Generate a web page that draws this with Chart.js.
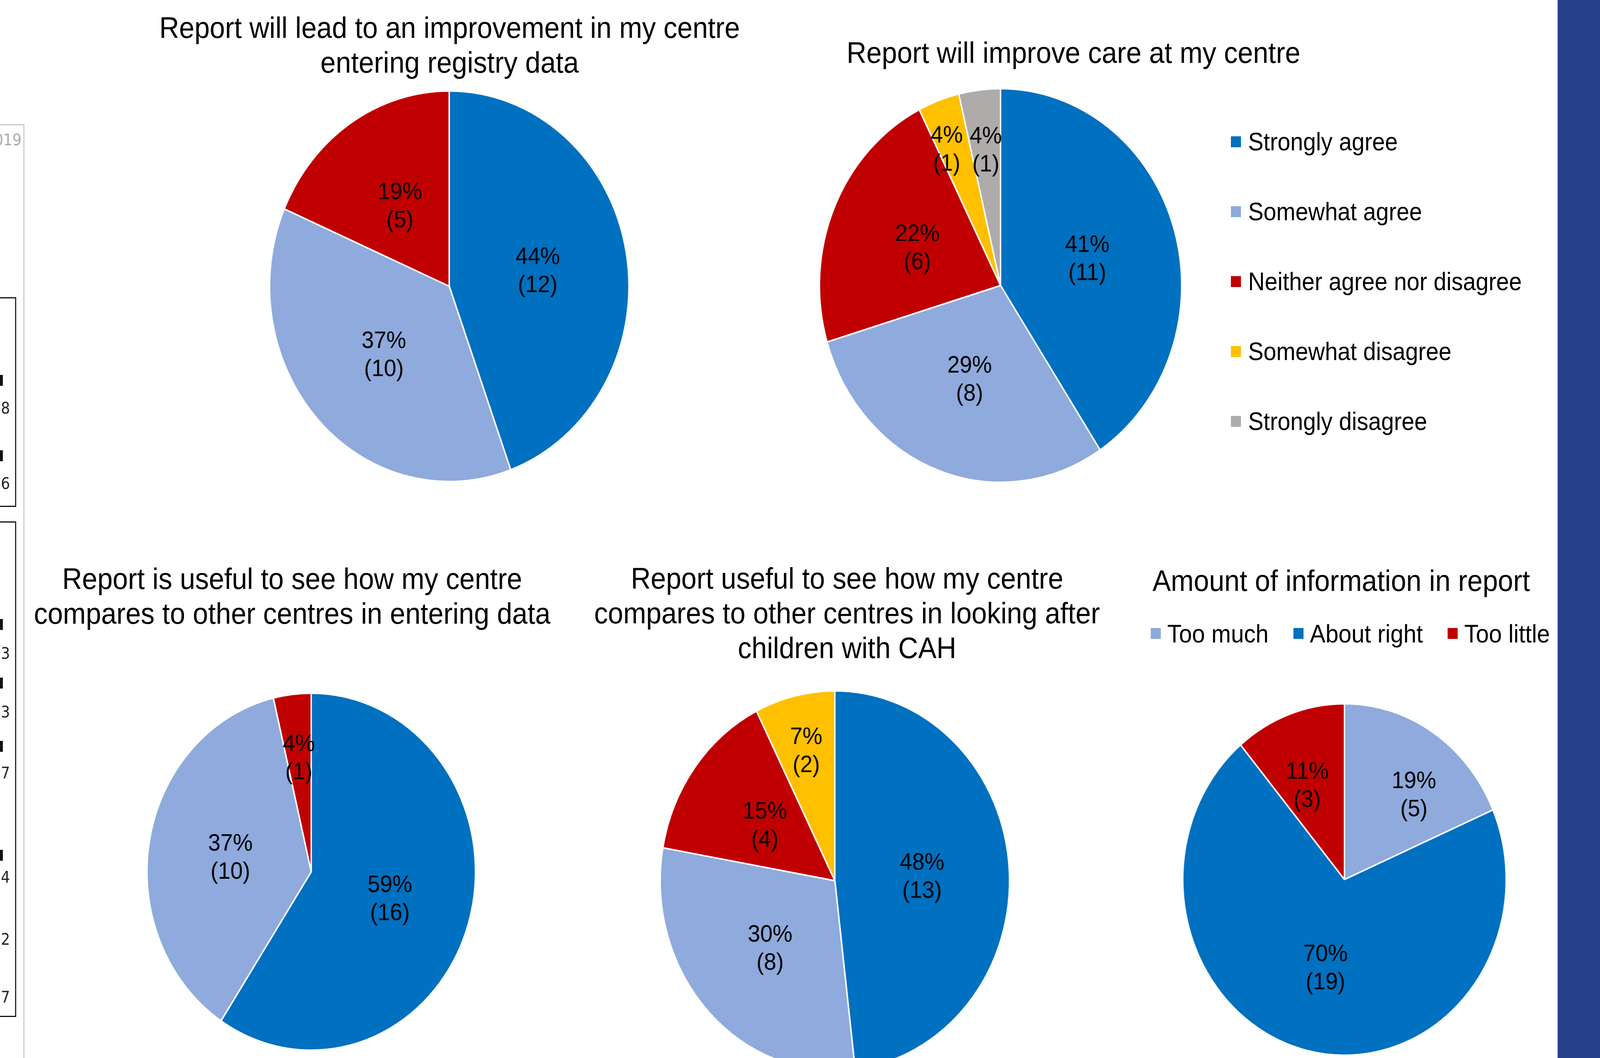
<!DOCTYPE html>
<html><head><meta charset="utf-8">
<script src="https://cdn.jsdelivr.net/npm/chart.js@4.4.1/dist/chart.umd.min.js"></script>
<style>
html,body{margin:0;padding:0;background:#fff;width:100%;height:100%;overflow:hidden;position:relative;font-family:"Liberation Sans",Arial,sans-serif;}
#root{position:absolute;left:0;top:0;width:4452px;height:2709px;transform-origin:0 0;overflow:hidden;}
.title{position:absolute;text-align:center;color:#000;white-space:nowrap;width:2000px;font-size:76.5px;line-height:89px;}
.leg{position:absolute;display:flex;align-items:center;color:#000;white-space:nowrap;line-height:1;height:64px;}
.sw{width:28px;height:28px;flex:none;}
.pie{position:absolute;}
.art{position:absolute;box-sizing:border-box;}
.num{position:absolute;font-family:"DejaVu Sans",sans-serif;color:#222;line-height:1;text-align:right;width:200px;font-size:40px;}
</style></head><body>
<div id="root"></div>
<script>
// ---------- DATA ----------
const agreeCategories = ['Strongly agree','Somewhat agree','Neither agree nor disagree','Somewhat disagree','Strongly disagree'];
const amountCategories = ['Too much','About right','Too little'];

const leadTitle = ['Report will lead to an improvement in my centre','entering registry data'];
const leadCounts = [12, 10, 5];
const leadPct = [44, 37, 19];

const careTitle = ['Report will improve care at my centre'];
const careCounts = [11, 8, 6, 1, 1];
const carePct = [41, 29, 22, 4, 4];

const dataCompareTitle = ['Report is useful to see how my centre','compares to other centres in entering data'];
const dataCompareCounts = [16, 10, 1];
const dataComparePct = [59, 37, 4];

const careCompareTitle = ['Report useful to see how my centre','compares to other centres in looking after','children with CAH'];
const careCompareCounts = [13, 8, 4, 2];
const careComparePct = [48, 30, 15, 7];

const amountTitle = ['Amount of information in report'];
const amountCounts = [5, 19, 3];
const amountPct = [19, 70, 11];

const leftEdgeYear = '2019';
const leftEdgeNumbers = ['8','16','3','3','7','14','12','7'];

// ---------- STYLES / LAYOUT (design units: 4452 x 2709) ----------
const agreeColors = ['#0070C0','#8FAADC','#C00000','#FFC000','#AFABAB'];
const amountColors = ['#8FAADC','#0070C0','#C00000'];

const root = document.getElementById('root');
const Sx = (window.innerWidth || 4452) / 4452;
const Sy = (window.innerHeight || 2709) / 2709;
root.style.transform = 'scale(' + Sx + ',' + Sy + ')';

function add(cls, css, html) {
  const d = document.createElement('div');
  d.className = cls;
  Object.assign(d.style, css);
  if (html !== undefined) d.innerHTML = html;
  root.appendChild(d);
  return d;
}

// left-edge fragment of the neighbouring slide
add('art', {left:'0', top:'318px', width:'68px', height:'2500px', borderTop:'3px solid #c8c8c8', borderRight:'3px solid #c8c8c8'});
add('num', {left:'-140px', top:'338px', color:'#aaa'}, leftEdgeYear);
add('art', {left:'-10px', top:'761px', width:'55px', height:'537px', border:'3px solid #111'});
add('art', {left:'-10px', top:'1335px', width:'55px', height:'1269px', border:'3px solid #111'});
[974, 1167, 1599, 1749, 1911, 2190].forEach(y =>
  add('art', {left:'0', top:(y - 14) + 'px', width:'8px', height:'28px', background:'#111'}));
const numY = [1045, 1238, 1673, 1823, 1979, 2246, 2405, 2553];
leftEdgeNumbers.forEach((n, i) =>
  add('num', {left:'-172px', top:(numY[i] - 20) + 'px'}, n));

// right blue bar
add('art', {left:'4334px', top:'0', width:'130px', height:'2720px', background:'#27408B'});

// titles
const titleSpecs = [
  {lines:leadTitle, cx:1251, top:26},
  {lines:careTitle, cx:2987, top:90},
  {lines:dataCompareTitle, cx:813, top:1437},
  {lines:careCompareTitle, cx:2357, top:1436},
  {lines:amountTitle, cx:3732, top:1442}
];
titleSpecs.forEach(t => add('title', {left:(t.cx - 1000) + 'px', top:t.top + 'px'},
  t.lines.map(l => '<div>' + l + '</div>').join('')));

// legends
agreeCategories.forEach((c, i) => add('leg',
  {left:'3425px', top:(363 + i * 179 - 32) + 'px', fontSize:'64px'},
  '<span class="sw" style="margin-right:20px;background:' + agreeColors[i] + '"></span><span>' + c + '</span>'));
add('leg', {left:'3202px', top:(1622 - 32) + 'px', fontSize:'65px', gap:'69px'},
  amountCategories.map((c, i) =>
    '<span style="display:flex;align-items:center"><span class="sw" style="margin-right:18px;background:' + amountColors[i] + '"></span><span>' + c + '</span></span>').join(''));

// ---------- PIES ----------
// lr: label distance as fraction of radius; la: label angle shift in degrees
const charts = [
  {labels:agreeCategories, counts:leadCounts, pct:leadPct, colors:agreeColors, cx:1250, cy:733, r:500, lr:[0.5,0.5,0.5], la:[0,0,0]},
  {labels:agreeCategories, counts:careCounts, pct:carePct, colors:agreeColors, cx:2784, cy:731, r:504, lr:[0.5,0.5,0.5,0.76,0.7], la:[0,0,0,-3,0]},
  {labels:agreeCategories, counts:dataCompareCounts, pct:dataComparePct, colors:agreeColors, cx:866, cy:2232, r:457, lr:[0.5,0.5,0.65], la:[0,0,0]},
  {labels:agreeCategories, counts:careCompareCounts, pct:careComparePct, colors:agreeColors, cx:2323, cy:2255, r:486, lr:[0.5,0.51,0.5,0.71], la:[0,0,0,0]},
  {labels:amountCategories, counts:amountCounts, pct:amountPct, colors:amountColors, cx:3741, cy:2252, r:450, lr:[0.65,0.51,0.59], la:[8,0,-3]}
];

const pieLabels = {
  id: 'pieLabels',
  afterDatasetsDraw(chart, args, opts) {
    const ctx = chart.ctx;
    const meta = chart.getDatasetMeta(0);
    const ds = chart.data.datasets[0];
    ctx.save();
    ctx.font = '62px "Liberation Sans", Arial, sans-serif';
    ctx.fillStyle = '#000';
    ctx.textAlign = 'center';
    ctx.textBaseline = 'middle';
    meta.data.forEach((arc, i) => {
      const p = arc.getProps(['x','y','startAngle','endAngle','outerRadius'], true);
      const mid = (p.startAngle + p.endAngle) / 2 + opts.shift[i] * Math.PI / 180;
      const rr = p.outerRadius * opts.radii[i];
      const x = p.x + Math.cos(mid) * rr;
      const y = p.y + Math.sin(mid) * rr + 5;
      ctx.fillText(opts.pct[i] + '%', x, y - 36);
      ctx.fillText('(' + ds.data[i] + ')', x, y + 36);
    });
    ctx.restore();
  }
};

charts.forEach(c => {
  const m = 12;
  const size = 2 * c.r + 2 * m;
  const box = add('pie', {left:(c.cx - c.r - m) + 'px', top:(c.cy - c.r - m) + 'px', width:size + 'px', height:size + 'px'});
  const cv = document.createElement('canvas');
  cv.width = size;
  cv.height = size;
  box.appendChild(cv);
  new Chart(cv, {
    type: 'pie',
    data: {
      labels: c.labels.slice(0, c.counts.length),
      datasets: [{
        data: c.counts,
        backgroundColor: c.colors.slice(0, c.counts.length),
        borderColor: '#ffffff',
        borderWidth: 4
      }]
    },
    options: {
      responsive: false,
      devicePixelRatio: 1,
      animation: false,
      radius: c.r,
      layout: {padding: 0},
      events: [],
      plugins: {
        legend: {display: false},
        tooltip: {enabled: false},
        title: {display: false},
        pieLabels: {radii: c.lr, shift: c.la, pct: c.pct}
      }
    },
    plugins: [pieLabels]
  });
});
</script>
</body></html>
